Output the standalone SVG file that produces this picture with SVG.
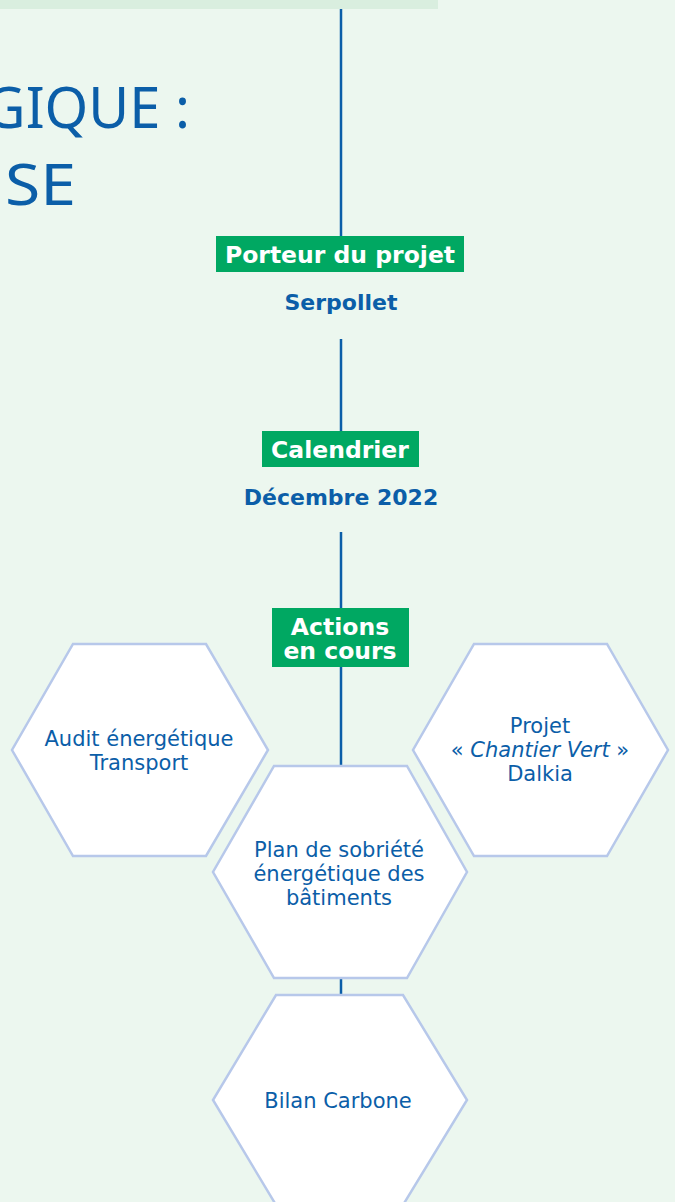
<svg xmlns="http://www.w3.org/2000/svg" width="675" height="1202" viewBox="0 0 675 1202">
<style>
.bg{fill:#ECF7EF}
.strip{fill:#D9EEDF}
.conn{stroke:#0B5EA8;stroke-width:2.5;fill:none}
.tag{fill:#00A862}
.tagt{fill:#FFFFFF;font-family:"DejaVu Sans",sans-serif;font-weight:700;font-size:23.5px;text-anchor:middle}
.val{fill:#0B5EA8;font-family:"DejaVu Sans",sans-serif;font-weight:700;font-size:22px;text-anchor:middle}
.hex{fill:#FFFFFF;stroke:#B7C8EA;stroke-width:2.5}
.ht{fill:#0B5EA8;font-family:"DejaVu Sans",sans-serif;font-size:21px;text-anchor:middle}
.title{fill:#0B5EA8;font-family:"Noto Sans",sans-serif;font-size:56px}
</style>
<rect class="bg" x="0" y="0" width="675" height="1202"/>
<rect class="strip" x="0" y="0" width="438" height="9"/>
<text class="title" x="190" y="128" text-anchor="end">GIQUE :</text>
<text class="title" x="5" y="205" textLength="71" lengthAdjust="spacingAndGlyphs">SE</text>
<g id="connectors">
<line class="conn" x1="341" y1="9" x2="341" y2="236"/>
<line class="conn" x1="341" y1="339" x2="341" y2="431"/>
<line class="conn" x1="341" y1="532" x2="341" y2="608"/>
<line class="conn" x1="341" y1="667" x2="341" y2="766"/>
<line class="conn" x1="341" y1="978" x2="341" y2="995"/>
</g>
<g id="porteur">
<rect class="tag" x="216" y="236" width="248" height="36"/>
<text class="tagt" x="340" y="263">Porteur du projet</text>
<text class="val" x="341" y="310">Serpollet</text>
</g>
<g id="calendrier">
<rect class="tag" x="262" y="431" width="157" height="36"/>
<text class="tagt" x="340" y="458">Calendrier</text>
<text class="val" x="341" y="505">Décembre 2022</text>
</g>
<g id="actions">
<rect class="tag" x="272" y="608" width="137" height="59"/>
<text class="tagt" x="340" y="635">Actions</text>
<text class="tagt" x="340" y="659">en cours</text>
</g>
<g id="audit">
<polygon class="hex" points="73,644 206,644 268,750 206,856 73,856 12,750"/>
<text class="ht" x="139" y="746">Audit énergétique</text>
<text class="ht" x="139" y="770">Transport</text>
</g>
<g id="chantier">
<polygon class="hex" points="474,644 607,644 668,750 607,856 474,856 413,750"/>
<text class="ht" x="540" y="733">Projet</text>
<text class="ht" x="540" y="757">« <tspan font-style="italic">Chantier Vert</tspan> »</text>
<text class="ht" x="540" y="781">Dalkia</text>
</g>
<g id="plan">
<polygon class="hex" points="274,766 407,766 467,872 407,978 274,978 213,872"/>
<text class="ht" x="339" y="857">Plan de sobriété</text>
<text class="ht" x="339" y="881">énergétique des</text>
<text class="ht" x="339" y="905">bâtiments</text>
</g>
<g id="bilan">
<polygon class="hex" points="276,995 403,995 467,1100 403,1205 276,1205 213,1100"/>
<text class="ht" x="338" y="1108">Bilan Carbone</text>
</g>
</svg>
